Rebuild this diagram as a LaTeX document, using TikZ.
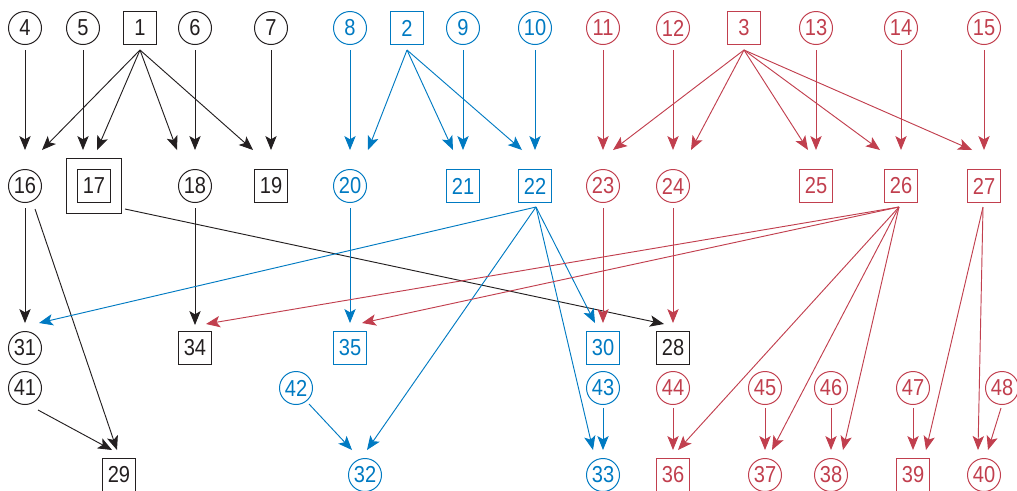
\documentclass[tikz,border=0pt]{standalone}
\usepackage{fontspec}
\setmainfont{Liberation Sans}[FakeStretch=0.87]
\usetikzlibrary{arrows.meta,calc}
\definecolor{kblack}{RGB}{35,31,32}
\definecolor{kblue}{RGB}{0,122,194}
\definecolor{kred}{RGB}{193,63,78}
\newcommand\myedge[5]{\draw[arr,#1] ($(#2)+(#3)$) -- ($(#4)+(#5)$);}
\begin{document}
\begin{tikzpicture}[x=0.75pt,y=-0.75pt,
  every node/.style={font=\fontsize{17.3}{20}\selectfont, inner sep=0pt, line width=0.75pt},
  circ/.style={draw, circle, minimum size=24.75pt},
  sq/.style={draw, rectangle, minimum size=24.5pt},
  bigsq/.style={draw, rectangle, minimum size=41.5pt},
  K/.style={draw=kblack, text=kblack, color=kblack},
  B/.style={draw=kblue, text=kblue, color=kblue},
  R/.style={draw=kred, text=kred, color=kred},
  arr/.style={line width=0.7pt, -{Stealth[length=10.5pt,width=8.5pt,inset=2.5pt]}}]
\useasboundingbox (0,0) rectangle (1017,490);
% row 1
\node[circ,K] (n4) at (25,28) {4};
\node[circ,K] (n5) at (83,28) {5};
\node[sq,K] (n1) at (140,28) {1};
\node[circ,K] (n6) at (195,28) {6};
\node[circ,K] (n7) at (271,28) {7};
\node[circ,B] (n8) at (350,28) {8};
\node[sq,B] (n2) at (407,28) {2};
\node[circ,B] (n9) at (463,28) {9};
\node[circ,B] (n10) at (535,28) {10};
\node[circ,R] (n11) at (603,28) {11};
\node[circ,R] (n12) at (673,28) {12};
\node[sq,R] (n3) at (744,28) {3};
\node[circ,R] (n13) at (816,28) {13};
\node[circ,R] (n14) at (901,28) {14};
\node[circ,R] (n15) at (984,28) {15};
% row 2
\node[circ,K] (n16) at (25,186) {16};
\node[bigsq,K] (n17o) at (94,186) {};
\node[sq,K] (n17) at (94,186) {17};
\node[circ,K] (n18) at (195,186) {18};
\node[sq,K] (n19) at (271,186) {19};
\node[circ,B] (n20) at (350,186) {20};
\node[sq,B] (n21) at (463,186) {21};
\node[sq,B] (n22) at (535,186) {22};
\node[circ,R] (n23) at (603,186) {23};
\node[circ,R] (n24) at (673,186) {24};
\node[sq,R] (n25) at (816,186) {25};
\node[sq,R] (n26) at (901,186) {26};
\node[sq,R] (n27) at (984,186) {27};
% row 3
\node[circ,K] (n31) at (25,348) {31};
\node[sq,K] (n34) at (195,348) {34};
\node[sq,B] (n35) at (350,348) {35};
\node[sq,B] (n30) at (603,348) {30};
\node[sq,K] (n28) at (673,348) {28};
% row 4
\node[circ,K] (n41) at (25,388) {41};
\node[circ,B] (n42) at (296,388) {42};
\node[circ,B] (n43) at (603,388) {43};
\node[circ,R] (n44) at (673,388) {44};
\node[circ,R] (n45) at (765,388) {45};
\node[circ,R] (n46) at (831,388) {46};
\node[circ,R] (n47) at (913,388) {47};
\node[circ,R] (n48) at (1002,388) {48};
% row 5
\node[sq,K] (n29) at (119,475) {29};
\node[circ,B] (n32) at (365,475) {32};
\node[circ,B] (n33) at (603,475) {33};
\node[sq,R] (n36) at (673,475) {36};
\node[circ,R] (n37) at (765,475) {37};
\node[circ,R] (n38) at (831,475) {38};
\node[sq,R] (n39) at (913,475) {39};
\node[circ,R] (n40) at (984,475) {40};
% row1 -> row2
\myedge{kblack}{n4}{0,22}{n16}{0,-36}
\myedge{kblack}{n5}{0,22}{n17}{-11,-36}
\myedge{kblack}{n1}{0,22}{n16}{17,-36}
\myedge{kblack}{n1}{0,22}{n17}{3,-36}
\myedge{kblack}{n1}{0,22}{n18}{-18,-36}
\myedge{kblack}{n6}{0,22}{n18}{0,-36}
\myedge{kblack}{n1}{0,22}{n19}{-18,-36}
\myedge{kblack}{n7}{0,22}{n19}{0,-36}
\myedge{kblue}{n8}{0,22}{n20}{0,-36}
\myedge{kblue}{n2}{0,22}{n20}{18,-36}
\myedge{kblue}{n2}{0,22}{n21}{-10,-36}
\myedge{kblue}{n9}{0,22}{n21}{0,-36}
\myedge{kblue}{n2}{0,22}{n22}{-13,-36}
\myedge{kblue}{n10}{0,22}{n22}{0,-36}
\myedge{kred}{n11}{0,22}{n23}{0,-36}
\myedge{kred}{n3}{0,22}{n23}{10,-36}
\myedge{kred}{n12}{0,22}{n24}{0,-36}
\myedge{kred}{n3}{0,22}{n24}{18,-36}
\myedge{kred}{n3}{0,22}{n25}{-8,-36}
\myedge{kred}{n13}{0,22}{n25}{0,-36}
\myedge{kred}{n3}{0,22}{n26}{-21,-36}
\myedge{kred}{n14}{0,22}{n26}{0,-36}
\myedge{kred}{n3}{0,22}{n27}{-12,-36}
\myedge{kred}{n15}{0,22}{n27}{0,-36}
% row2 -> lower rows
\myedge{kblack}{n16}{0,22}{n31}{0,-25}
\myedge{kblack}{n16}{10,23}{n29}{-2,-25}
\myedge{kblack}{n17}{31,23}{n28}{-9,-24}
\myedge{kblack}{n18}{0,22}{n34}{0,-23}
\myedge{kblue}{n20}{0,22}{n35}{0,-25}
\myedge{kblue}{n22}{1,21}{n31}{14,-25}
\myedge{kblue}{n22}{1,21}{n32}{2,-25}
\myedge{kblue}{n22}{1,21}{n30}{-8,-25}
\myedge{kblue}{n22}{1,21}{n33}{-10,-25}
\myedge{kred}{n23}{0,22}{n30}{0,-25}
\myedge{kred}{n24}{0,22}{n28}{0,-25}
\myedge{kred}{n26}{-2,21}{n34}{11,-24}
\myedge{kred}{n26}{-2,21}{n35}{12,-25}
\myedge{kred}{n26}{-2,21}{n36}{5,-25}
\myedge{kred}{n26}{-2,21}{n37}{7,-25}
\myedge{kred}{n26}{-2,21}{n38}{12,-25}
\myedge{kred}{n27}{-1,21}{n39}{13,-25}
\myedge{kred}{n27}{-1,21}{n40}{-6,-25}
% row4 -> row5
\myedge{kblack}{n41}{13,22}{n29}{-7,-25}
\myedge{kblue}{n42}{13,16}{n32}{-13,-25}
\myedge{kblue}{n43}{0,20}{n33}{0,-25}
\myedge{kred}{n44}{0,20}{n36}{0,-25}
\myedge{kred}{n45}{0,20}{n37}{0,-25}
\myedge{kred}{n46}{0,20}{n38}{0,-25}
\myedge{kred}{n47}{0,20}{n39}{0,-25}
\myedge{kred}{n48}{-1,20}{n40}{4,-25}
\end{tikzpicture}
\end{document}
